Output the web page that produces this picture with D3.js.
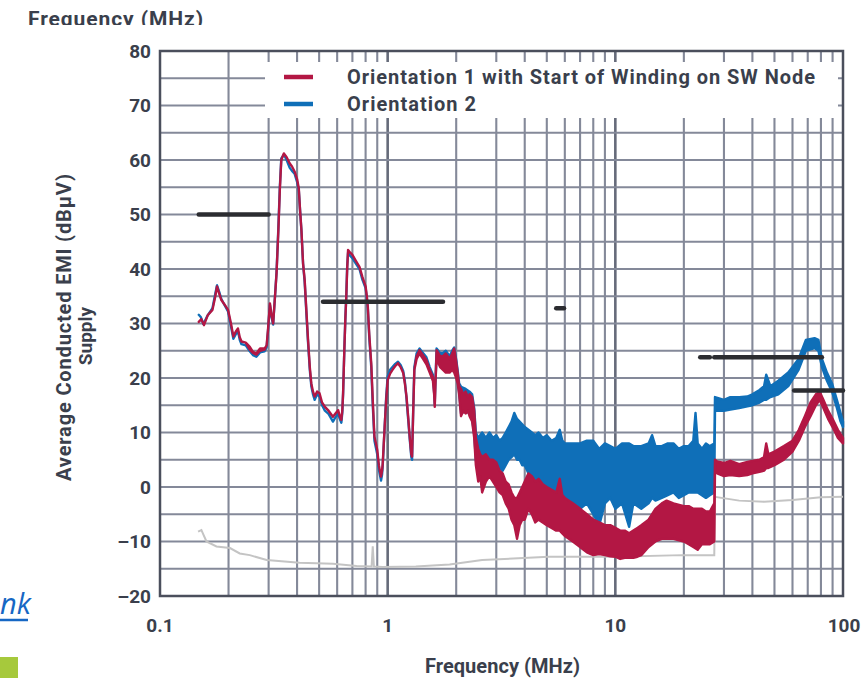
<!DOCTYPE html>
<html><head><meta charset="utf-8">
<script src="https://cdn.jsdelivr.net/npm/d3@7"></script>
<style>body{margin:0;background:#fff}svg{display:block}</style>
</head><body><svg id="c" width="863" height="678"></svg>
<script>
// ---- data ----
const xTicks = [0.1, 1, 10, 100];
const xTickLabels = ["0.1", "1", "10", "100"];
const yTicks = [80, 70, 60, 50, 40, 30, 20, 10, 0, -10, -20];
const yTickLabels = ["80", "70", "60", "50", "40", "30", "20", "10", "0", "–10", "–20"];
const legendLabels = ["Orientation 1 with Start of Winding on SW Node", "Orientation 2"];

// [freq MHz, low dBµV, high dBµV]
const redTrace = [
[0.148,30.3,30.3],[0.152,30.8,30.8],[0.156,29.7,29.7],[0.162,31.5,31.5],[0.17,32.5,32.5],[0.175,35,35],[0.178,36.8,36.8],[0.182,35.5,35.5],[0.186,34.3,34.3],[0.192,33.5,33.5],[0.199,32.5,32.5],[0.205,30,30],[0.21,27.6,27.6],[0.215,28.5,28.5],[0.22,29.1,29.1],[0.224,27.5,27.5],[0.228,26.7,26.7],[0.238,26.5,26.5],[0.248,25.2,25.7],[0.256,24.6,24.8],[0.265,24.3,24.5],[0.275,25,25.4],[0.288,25.2,25.4],[0.294,26,26],[0.298,28.8,28.8],[0.302,32,32],[0.304,33.7,33.7],[0.309,31.5,31.5],[0.314,30,30],[0.32,35,35],[0.325,39.2,39.2],[0.331,47,47],[0.336,54.5,54.5],[0.341,60,60],[0.35,61.2,61.2],[0.36,60.5,60.5],[0.371,59.4,59.4],[0.38,58.8,58.8],[0.39,57.9,57.9],[0.4,56.5,56.5],[0.407,54.8,54.8],[0.412,51,51],[0.418,47.2,47.2],[0.425,41,41],[0.432,38,38],[0.44,32,32],[0.447,27,27],[0.455,22,22],[0.462,19,19],[0.47,17.5,17.5],[0.478,16.6,16.6],[0.49,17.5,17.5],[0.502,17.2,17.2],[0.515,15.5,15.5],[0.53,14.7,14.7],[0.55,14,14],[0.575,12.9,12.9],[0.59,13.5,13.5],[0.606,14.1,14.1],[0.616,13,13],[0.626,12.3,12.3],[0.632,14,14],[0.637,17.2,17.2],[0.645,25,25],[0.652,31,31],[0.658,34.9,34.9],[0.664,40,40],[0.67,43.5,43.5],[0.685,43,43],[0.7,42.6,42.6],[0.725,41.5,41.5],[0.752,40.4,40.4],[0.775,38.5,38.5],[0.8,36.8,36.8],[0.81,35,35],[0.818,33.1,33.1],[0.83,28,28],[0.847,22.7,22.7],[0.86,16,16],[0.875,9.2,9.2],[0.888,8,8],[0.9,6.8,6.8],[0.915,4,4],[0.935,1.9,1.9],[0.945,3,3],[0.951,4.3,4.3],[0.97,11,11],[0.985,16,16],[1.0,19.6,19.6],[1.025,20.8,20.8],[1.05,21.5,21.5],[1.08,22.2,22.2],[1.11,22.7,22.7],[1.14,22,22],[1.17,20.9,20.9],[1.19,19,19],[1.21,16.6,16.6],[1.23,13,13],[1.25,9.2,9.2],[1.27,6,6],[1.28,5.6,5.6],[1.295,14,14],[1.31,21.5,21.5],[1.34,23.5,24],[1.38,24.5,25.1],[1.43,23.5,24.2],[1.48,22.5,23.3],[1.53,21,21.5],[1.58,19.5,20.2],[1.6,17,17],[1.61,14.7,14.7],[1.625,20,20],[1.64,23.5,25.1],[1.7,22,24],[1.75,21.5,24],[1.8,21,24.5],[1.87,21,23.5],[1.92,21.5,24.5],[1.96,21,25.4],[2.0,20,23],[2.03,19,21],[2.06,17,18.5],[2.1,13,18],[2.15,14,17],[2.2,13.5,17.5],[2.25,14,16.5],[2.29,13,17],[2.35,12,16.5],[2.4,9,14],[2.44,4,9],[2.5,1,7],[2.55,2,6],[2.6,-1,5.5],[2.7,1,6],[2.8,2,5],[2.9,1,5],[3.0,0,4.5],[3.1,-1,3],[3.2,-1.5,2.5],[3.3,-3,1],[3.4,-4,0.5],[3.5,-6,-1],[3.6,-7,-2],[3.7,-9.5,-2],[3.8,-7,-1],[3.9,-6,0],[4.0,-6,1],[4.15,-4,2.5],[4.3,-5,2],[4.45,-6.5,1],[4.6,-6,1.5],[4.8,-6.5,0.5],[5.0,-7,0],[5.25,-7.5,-0.5],[5.5,-8,-1],[5.7,-8,1.5],[5.85,-8.5,-1.5],[6.0,-9,-2],[6.25,-9.5,-2.5],[6.5,-10,-3],[6.75,-10.5,-3.5],[7.0,-11,-4],[7.5,-12,-5],[8,-12.5,-6],[8.5,-12.3,-6.5],[9,-12.5,-7],[9.5,-12.7,-7],[10,-12.8,-7.5],[10.5,-13.2,-8],[11,-13,-8],[11.5,-13,-8.5],[12,-13,-8],[12.5,-12.8,-7.5],[13,-12.5,-7],[14,-11,-6],[15,-10,-4],[16,-9.5,-3],[16.8,-9.5,-2.5],[18,-9.5,-3],[20,-10,-3.5],[21,-10.5,-3.5],[22,-11,-4],[23,-11.5,-4],[24,-10.5,-4],[25,-10.5,-4.5],[26,-10.5,-4.5],[27.2,-10,-3],[27.4,3,5],[28,2.5,4.7],[30,2,4.4],[32,2.2,4.8],[35,2,4.2],[38,2.2,4.6],[40,2.5,4.8],[43,2.8,5],[45,3,5.5],[46,3.5,8],[47,3.5,6],[50,4,6.5],[55,5,7.5],[60,6.5,8.5],[64,8.5,10.5],[68,11,13],[72,13,15.5],[76,15,17],[79,16,17.5],[82,14.5,16],[86,12.5,14],[90,11,12.5],[95,9,10.5],[100,8,9]
];
const blueTrace = [
[0.148,31.6,31.6],[0.151,31.2,31.2],[0.155,29.9,29.9],[0.162,31.5,31.5],[0.17,32.8,32.8],[0.175,35.5,35.5],[0.178,37,37],[0.182,35.8,35.8],[0.186,34.5,34.5],[0.192,33.4,33.4],[0.199,32.2,32.2],[0.205,29.5,29.5],[0.21,27.2,27.2],[0.215,28,28],[0.22,28.6,28.6],[0.224,27,27],[0.228,26.2,26.2],[0.238,26,26],[0.248,24.9,24.9],[0.256,24.2,24.2],[0.265,23.9,23.9],[0.275,24.7,24.7],[0.288,24.9,24.9],[0.294,25.6,25.6],[0.298,28.5,28.5],[0.302,31.8,31.8],[0.304,33.4,33.4],[0.309,31.2,31.2],[0.314,29.8,29.8],[0.32,35,35],[0.325,39.4,39.4],[0.331,47.5,47.5],[0.336,55,55],[0.341,60.3,60.3],[0.35,61,61],[0.36,60,60],[0.371,58.6,58.6],[0.38,58,58],[0.39,57.5,57.5],[0.4,56,56],[0.407,54.5,54.5],[0.412,51,51],[0.418,47,47],[0.425,41,41],[0.432,37.6,37.6],[0.44,31.5,31.5],[0.447,26.5,26.5],[0.455,21.5,21.5],[0.462,18.5,18.5],[0.47,17,17],[0.478,16,16],[0.49,17,17],[0.502,16.6,16.6],[0.515,15,15],[0.53,14,14],[0.55,13.4,13.4],[0.575,12,12],[0.59,12.8,12.8],[0.606,13.5,13.5],[0.616,12.5,12.5],[0.626,11.8,11.8],[0.632,13.6,13.6],[0.637,17,17],[0.645,25,25],[0.652,31,31],[0.658,35,35],[0.664,40.5,40.5],[0.67,43,43],[0.685,42.4,42.4],[0.7,42,42],[0.725,41,41],[0.752,40,40],[0.775,38,38],[0.8,36.5,36.5],[0.81,34.6,34.6],[0.818,32.8,32.8],[0.83,27.5,27.5],[0.847,22,22],[0.86,15,15],[0.875,8.5,8.5],[0.888,7.2,7.2],[0.9,6,6],[0.915,3.2,3.2],[0.935,1.2,1.2],[0.945,2.3,2.3],[0.951,3.8,3.8],[0.97,11,11],[0.985,16.5,16.5],[1.0,20.3,20.3],[1.025,21.5,21.5],[1.05,22,22],[1.08,22.6,22.6],[1.11,23,23],[1.14,22.4,22.4],[1.17,21.3,21.3],[1.19,19.4,19.4],[1.21,16.2,16.2],[1.23,12.5,12.5],[1.25,8.8,8.8],[1.27,5.5,5.5],[1.28,5,5],[1.295,14.5,14.5],[1.31,22,22],[1.34,24,24.5],[1.38,24.8,25.4],[1.43,24,24.6],[1.48,23,23.8],[1.53,21.5,22],[1.58,20,20.6],[1.6,17.3,17.3],[1.61,15.2,15.2],[1.625,20.5,20.5],[1.64,24,25.4],[1.7,22.6,24.6],[1.75,22.5,24.6],[1.8,22,25],[1.87,22,24],[1.92,22,25],[1.96,21.5,25.6],[2.0,20.4,23.4],[2.03,19.4,21.4],[2.06,17.4,19],[2.1,13.5,18.4],[2.2,14,18],[2.29,13.5,17.5],[2.35,12.4,17],[2.4,9.6,14.4],[2.44,5,10],[2.5,2,9],[2.6,4,10],[2.7,5.5,9],[2.8,5,10],[2.9,4.5,9],[3.0,4,9.5],[3.1,3.5,8.5],[3.2,3,9],[3.3,4,10],[3.4,5,11],[3.5,5.5,12],[3.6,6,13.6],[3.7,5,12.5],[3.8,5,12],[3.9,4,11.5],[4.0,4,11],[4.15,2.5,10.5],[4.3,2,10],[4.45,1,9.5],[4.6,1,10],[4.8,-1,9],[5.0,0,9.5],[5.25,-1,8.5],[5.5,-2,9],[5.7,-3,10.5],[5.85,-2,8.5],[6,-4,8],[6.5,-5,8],[7,-4,8],[7.5,-3,8.5],[8,-5,8.5],[8.5,-7,7],[9,-3,8],[9.5,-2,7.5],[10,-4,7],[10.7,-3,8],[11.5,-7.3,8],[12,-3,7.5],[13,-4,7.5],[14,-3,8],[14.5,-2,9.5],[15,-2.5,7.5],[16,-2,7.5],[17,-1.5,8],[18,-1,8],[19,-2,7],[20,-1.5,7.5],[21,-1,7.5],[22,-1,8.5],[22.5,-1,13.6],[23,-1,8],[24,-1.5,7],[25,-2,8],[26,-1.5,7.5],[27.2,-1,8],[27.4,14,16.5],[30,14,16],[32,14.2,16.5],[35,14.5,16.5],[38,14.8,16.6],[40,15,17],[43,15.5,17.8],[45,16,18.5],[46,16,20.6],[48,16.5,18.5],[52,17,19.5],[57.5,18.5,21],[63.8,21.5,23.5],[68.7,25,27],[75,25.5,27.3],[78,25,27],[80.8,22,23.5],[85,19.5,21],[89.5,17.5,19],[94,14.5,16],[97.6,12,13.5],[100,11,12]
];
// noise floor [freq, dBµV]
const floorTrace = [
[0.147,-8.2],[0.152,-7.9],[0.16,-10],[0.177,-10.9],[0.203,-11.2],[0.224,-12.2],[0.248,-12.5],[0.294,-13.4],[0.41,-13.9],[0.575,-14.1],[0.73,-14.5],[0.85,-14.6],[0.86,-10.9],[0.87,-14.6],[0.95,-14.7],[1.33,-14.6],[1.87,-14.2],[2.6,-13.4],[5.1,-12.8],[10.1,-12.8],[19.7,-12.5],[27.2,-12.5],[27.4,-1.8],[35,-2.5],[45,-2.7],[60,-2.4],[80,-1.9],[100,-1.8]
];
// limit lines [f1, f2, dBµV]
const limitLines = [[0.148,0.3,50],[0.52,1.75,34],[5.5,5.95,32.8],[23.6,26.0,23.8],[27.2,80.8,23.8],[61,100,17.7]];

// ---- chart ----
const svg = d3.select("#c");
const L = 160, R = 843, T = 51, B = 596;
const x = d3.scaleLog().domain([0.1, 100]).range([L, R]);
const y = d3.scaleLinear().domain([-20, 80]).range([B, T]);
const textCol = "#3a3f4c", gridCol = "#848999";
const font = "Roboto, 'DejaVu Sans', sans-serif";

// grid
const g = svg.append("g");
const minor = [];
for (let d = 0.1; d < 100; d *= 10) for (let k = 1; k <= 9; k++) minor.push(+(d * k).toPrecision(3));
g.selectAll("line.v").data(minor.filter(v => v > 0.1)).enter().append("line")
  .attr("x1", d => x(d)).attr("x2", d => x(d)).attr("y1", T).attr("y2", B)
  .attr("stroke", d => [1, 10].includes(d) ? "#666b7a" : gridCol)
  .attr("stroke-width", d => [1, 10].includes(d) ? 2.6 : 2.1);
g.selectAll("line.h").data(d3.range(-15, 80, 5)).enter().append("line")
  .attr("x1", L).attr("x2", R).attr("y1", d => y(d)).attr("y2", d => y(d))
  .attr("stroke", gridCol).attr("stroke-width", 2.1);

// legend background
svg.append("rect").attr("x", 265).attr("y", 62).attr("width", 573).attr("height", 56).attr("fill", "#fff");

// frame
svg.append("rect").attr("x", L).attr("y", T).attr("width", R - L).attr("height", B - T)
  .attr("fill", "none").attr("stroke", "#4b4f5c").attr("stroke-width", 2.5);

// traces
const band = d3.area().x(d => x(d[0])).y0(d => y(d[1])).y1(d => y(d[2]));
svg.append("path").datum(floorTrace)
  .attr("d", d3.line().x(d => x(d[0])).y(d => y(d[1])))
  .attr("fill", "none").attr("stroke", "#c4c4c4").attr("stroke-width", 2);
svg.append("path").datum(blueTrace).attr("d", band)
  .attr("fill", "#0f6fb8").attr("stroke", "#0f6fb8").attr("stroke-width", 2.4).attr("stroke-linejoin", "round");
svg.append("path").datum(redTrace).attr("d", band)
  .attr("fill", "#b31744").attr("stroke", "#b31744").attr("stroke-width", 2.4).attr("stroke-linejoin", "round");

// limits
svg.selectAll("line.lim").data(limitLines).enter().append("line")
  .attr("x1", d => x(d[0])).attr("x2", d => x(d[1])).attr("y1", d => y(d[2])).attr("y2", d => y(d[2]))
  .attr("stroke", "#2b2c30").attr("stroke-width", 4.5).attr("stroke-linecap", "round");

// legend
const lg = svg.append("g");
[["#b31744", 77, 468], ["#0f6fb8", 104, 129]].forEach((c, i) => {
  lg.append("line").attr("x1", 284).attr("x2", 313).attr("y1", c[1]).attr("y2", c[1])
    .attr("stroke", c[0]).attr("stroke-width", 4.5);
  lg.append("text").attr("x", 347).attr("y", c[1]).attr("dy", "0.36em")
    .attr("font-family", font).attr("font-weight", "bold").attr("font-size", 20)
    .attr("textLength", c[2]).attr("lengthAdjust", "spacing")
    .attr("fill", textCol).text(legendLabels[i]);
});

// axis tick labels
svg.selectAll("text.yt").data(yTicks).enter().append("text")
  .attr("x", 151).attr("y", d => y(d)).attr("dy", "0.36em").attr("text-anchor", "end")
  .attr("font-family", font).attr("font-weight", "bold").attr("font-size", 19).attr("fill", textCol)
  .text((d, i) => yTickLabels[i]);
svg.selectAll("text.xt").data(xTicks).enter().append("text")
  .attr("x", d => x(d) + (d === 100 ? 1 : 0)).attr("y", 632).attr("text-anchor", "middle")
  .attr("font-family", font).attr("font-weight", "bold").attr("font-size", 19).attr("fill", textCol)
  .text((d, i) => xTickLabels[i]);

// axis titles
svg.append("text").attr("x", 425).attr("y", 673)
  .attr("font-family", font).attr("font-weight", "bold").attr("font-size", 20).attr("fill", textCol)
  .attr("textLength", 155).attr("lengthAdjust", "spacing")
  .text("Frequency (MHz)");
svg.append("defs").append("clipPath").attr("id", "topclip").append("rect")
  .attr("x", 0).attr("y", 0).attr("width", 300).attr("height", 25);
svg.append("text").attr("x", 28).attr("y", 26).attr("clip-path", "url(#topclip)")
  .attr("font-family", font).attr("font-weight", "bold").attr("font-size", 21).attr("fill", textCol)
  .attr("textLength", 175).attr("lengthAdjust", "spacing")
  .text("Frequency (MHz)");
const yl = svg.append("g").attr("transform", "translate(64,328) rotate(-90)");
yl.append("text").attr("x", -153).attr("dy", "0.36em")
  .attr("font-family", font).attr("font-weight", "bold").attr("font-size", 20).attr("fill", textCol)
  .attr("textLength", 307).attr("lengthAdjust", "spacing")
  .text("Average Conducted EMI (dBµV)");
yl.append("text").attr("text-anchor", "middle").attr("y", 21).attr("x", -8).attr("dy", "0.36em")
  .attr("font-family", font).attr("font-weight", "bold").attr("font-size", 19).attr("fill", textCol)
  .text("Supply");

// page fragments at left
svg.append("text").attr("x", 0).attr("y", 614).attr("font-family", "'Open Sans', sans-serif")
  .attr("font-style", "italic").attr("font-size", 29).attr("fill", "#1667c4").text("nk");
svg.append("line").attr("x1", 0).attr("x2", 28).attr("y1", 620).attr("y2", 620)
  .attr("stroke", "#1667c4").attr("stroke-width", 2.5);
svg.append("rect").attr("x", 0).attr("y", 657).attr("width", 18).attr("height", 21).attr("fill", "#a6c93c");
</script></body></html>
